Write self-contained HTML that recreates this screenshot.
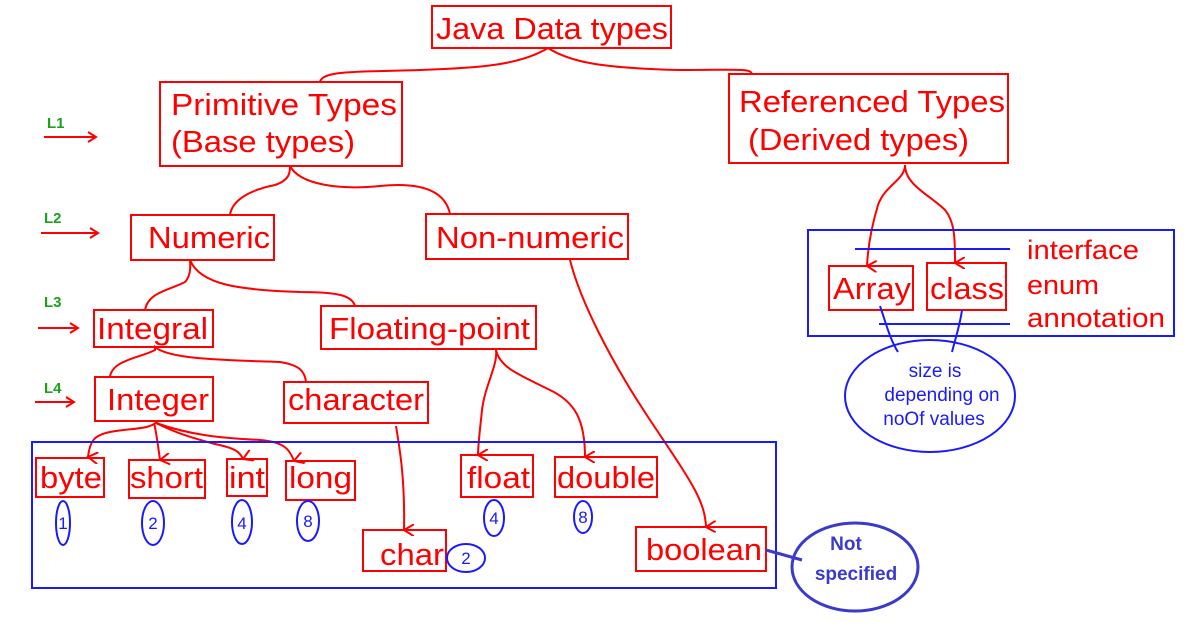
<!DOCTYPE html>
<html><head><meta charset="utf-8"><style>
html,body{margin:0;padding:0;background:#fff;}
svg{display:block}
text{font-family:"Liberation Sans",Arial,sans-serif;}
</style></head><body>
<svg width="1194" height="641" viewBox="0 0 1194 641" xmlns="http://www.w3.org/2000/svg">
<defs>
<marker id="ar" markerWidth="12" markerHeight="12" refX="6" refY="10" orient="auto" markerUnits="userSpaceOnUse" viewBox="0 0 12 12"><path d="M0,0 L6,10 L12,0" fill="none" stroke="red" stroke-width="2"/></marker>
</defs>
<g fill="none" stroke="red" stroke-width="2">
<rect x="432" y="6" width="239" height="42"/>
<rect x="160" y="82" width="242" height="84"/>
<rect x="729" y="74" width="279" height="89"/>
<rect x="131" y="215" width="143" height="45"/>
<rect x="426" y="214" width="202" height="45"/>
<rect x="94" y="310" width="119" height="37"/>
<rect x="321" y="306" width="215" height="43"/>
<rect x="95" y="377" width="118" height="44"/>
<rect x="284" y="382" width="144" height="41"/>
<rect x="36" y="458" width="68" height="39"/>
<rect x="129" y="460" width="76" height="38"/>
<rect x="227" y="459" width="40" height="37"/>
<rect x="286" y="461" width="69" height="39"/>
<rect x="363" y="530" width="83" height="41"/>
<rect x="461" y="455" width="72" height="42"/>
<rect x="555" y="457" width="102" height="40"/>
<rect x="636" y="527" width="130" height="44"/>
<rect x="829" y="266" width="84" height="44"/>
<rect x="927" y="263" width="79" height="47"/>
<path d="M320,82 C322,70 360,72 420,70 C480,68 520,65 548,48 C570,62 600,68 680,70 C740,70 750,68 752,74"/>
<path d="M230,215 C232,200 250,190 275,185 C290,180 290,172 290,166 C300,185 340,190 380,186 C420,182 445,190 450,214"/>
<path d="M145,310 C148,292 170,290 185,282 C192,275 190,262 190,260 C200,285 240,290 300,292 C340,292 352,296 355,306"/>
<path d="M110,377 C112,360 140,358 155,350 L155,347 C170,360 230,360 280,362 C300,365 305,372 306,382"/>
<path d="M158,421 C150,430 130,428 110,432 C95,435 90,440 88,457" marker-end="url(#ar)"/>
<path d="M154,423 C156,430 158,445 160,460" marker-end="url(#ar)"/>
<path d="M156,423 C180,435 200,440 215,444 C235,448 240,452 243,459" marker-end="url(#ar)"/>
<path d="M156,423 C190,435 220,438 260,440 C285,442 290,450 294,461" marker-end="url(#ar)"/>
<path d="M396,426 C400,450 405,480 404,530" marker-end="url(#ar)"/>
<path d="M496,350 C498,365 485,385 482,410 C480,430 478,445 478,455" marker-end="url(#ar)"/>
<path d="M496,350 C500,368 520,375 550,390 C575,402 585,420 585,457" marker-end="url(#ar)"/>
<path d="M570,260 C580,300 610,360 650,420 C690,480 705,500 706,527" marker-end="url(#ar)"/>
<path d="M905,165 C905,180 885,185 878,205 C872,225 868,245 867,266" marker-end="url(#ar)"/>
<path d="M905,165 C905,185 930,195 945,210 C955,222 955,240 955,263" marker-end="url(#ar)"/>
<path d="M44,137 L96,137 M88,132 L96,137 L88,142"/>
<path d="M41,233 L98,233 M90,228 L98,233 L90,238"/>
<path d="M38,328 L78,328 M70,323 L78,328 L70,333"/>
<path d="M35,402 L74,402 M66,397 L74,402 L66,407"/>
</g>
<g fill="none" stroke="#1a1aff" stroke-width="2">
<rect x="32" y="442" width="744" height="146"/>
<rect x="808" y="230" width="366" height="106"/>
<path d="M855,249 L1010,249 M879,324 L1010,324"/>
<ellipse cx="930" cy="396" rx="85" ry="56"/>
<path d="M880,306 C885,320 890,340 898,352 M962,310 C960,325 955,340 952,352"/>
<ellipse cx="63" cy="523" rx="7" ry="22"/>
<ellipse cx="153" cy="523" rx="11" ry="22"/>
<ellipse cx="242" cy="522" rx="10" ry="22"/>
<ellipse cx="308" cy="521" rx="11" ry="20"/>
<ellipse cx="494" cy="518" rx="10" ry="18"/>
<ellipse cx="583" cy="517" rx="9" ry="16"/>
<ellipse cx="466" cy="558" rx="19" ry="14"/>
</g>
<g fill="none" stroke="#3a3acc" stroke-width="3">
<ellipse cx="855" cy="567" rx="63" ry="44"/>
<path d="M766,550 L802,560"/>
</g>
<g fill="red" font-size="31" lengthAdjust="spacingAndGlyphs">
<text x="436" y="39" textLength="232" lengthAdjust="spacingAndGlyphs">Java Data types</text>
<text x="171" y="115" textLength="226" lengthAdjust="spacingAndGlyphs">Primitive Types</text>
<text x="171" y="152" textLength="184" lengthAdjust="spacingAndGlyphs">(Base types)</text>
<text x="739" y="112" textLength="266" lengthAdjust="spacingAndGlyphs">Referenced Types</text>
<text x="748" y="150" textLength="221" lengthAdjust="spacingAndGlyphs">(Derived types)</text>
<text x="148" y="248" textLength="122" lengthAdjust="spacingAndGlyphs">Numeric</text>
<text x="436" y="248" textLength="188" lengthAdjust="spacingAndGlyphs">Non-numeric</text>
<text x="97" y="339" textLength="111" lengthAdjust="spacingAndGlyphs">Integral</text>
<text x="329" y="339" textLength="201" lengthAdjust="spacingAndGlyphs">Floating-point</text>
<text x="107" y="410" textLength="102" lengthAdjust="spacingAndGlyphs">Integer</text>
<text x="288" y="410" textLength="136" lengthAdjust="spacingAndGlyphs">character</text>
<text x="40" y="488" textLength="62" lengthAdjust="spacingAndGlyphs">byte</text>
<text x="130" y="488" textLength="73" lengthAdjust="spacingAndGlyphs">short</text>
<text x="229" y="488" textLength="36" lengthAdjust="spacingAndGlyphs">int</text>
<text x="289" y="488" textLength="63" lengthAdjust="spacingAndGlyphs">long</text>
<text x="380" y="565" textLength="64" lengthAdjust="spacingAndGlyphs">char</text>
<text x="467" y="488" textLength="63" lengthAdjust="spacingAndGlyphs">float</text>
<text x="557" y="488" textLength="98" lengthAdjust="spacingAndGlyphs">double</text>
<text x="646" y="560" textLength="116" lengthAdjust="spacingAndGlyphs">boolean</text>
<text x="833" y="299" textLength="78" lengthAdjust="spacingAndGlyphs">Array</text>
<text x="930" y="299" textLength="74" lengthAdjust="spacingAndGlyphs">class</text>
<text x="1027" y="259" font-size="27" textLength="112" lengthAdjust="spacingAndGlyphs">interface</text>
<text x="1027" y="294" font-size="27" textLength="72" lengthAdjust="spacingAndGlyphs">enum</text>
<text x="1027" y="327" font-size="27" textLength="138" lengthAdjust="spacingAndGlyphs">annotation</text>
</g>
<g fill="#1a1aff" font-size="17" text-anchor="middle">
<text x="63" y="529">1</text>
<text x="153" y="529">2</text>
<text x="242" y="529">4</text>
<text x="308" y="527">8</text>
<text x="494" y="524">4</text>
<text x="583" y="523">8</text>
<text x="466" y="564">2</text>
<text x="935" y="377" font-size="19">size is</text>
<text x="942" y="401" font-size="19">depending on</text>
<text x="934" y="425" font-size="19">noOf values</text>
</g>
<g fill="#3a3acc" font-size="19" font-weight="bold" text-anchor="middle">
<text x="846" y="550">Not</text>
<text x="856" y="580">specified</text>
</g>
<g fill="#1aa31a" font-size="15" font-weight="bold">
<text x="47" y="128">L1</text>
<text x="44" y="223">L2</text>
<text x="44" y="307">L3</text>
<text x="44" y="393">L4</text>
</g>
</svg>
</body></html>
